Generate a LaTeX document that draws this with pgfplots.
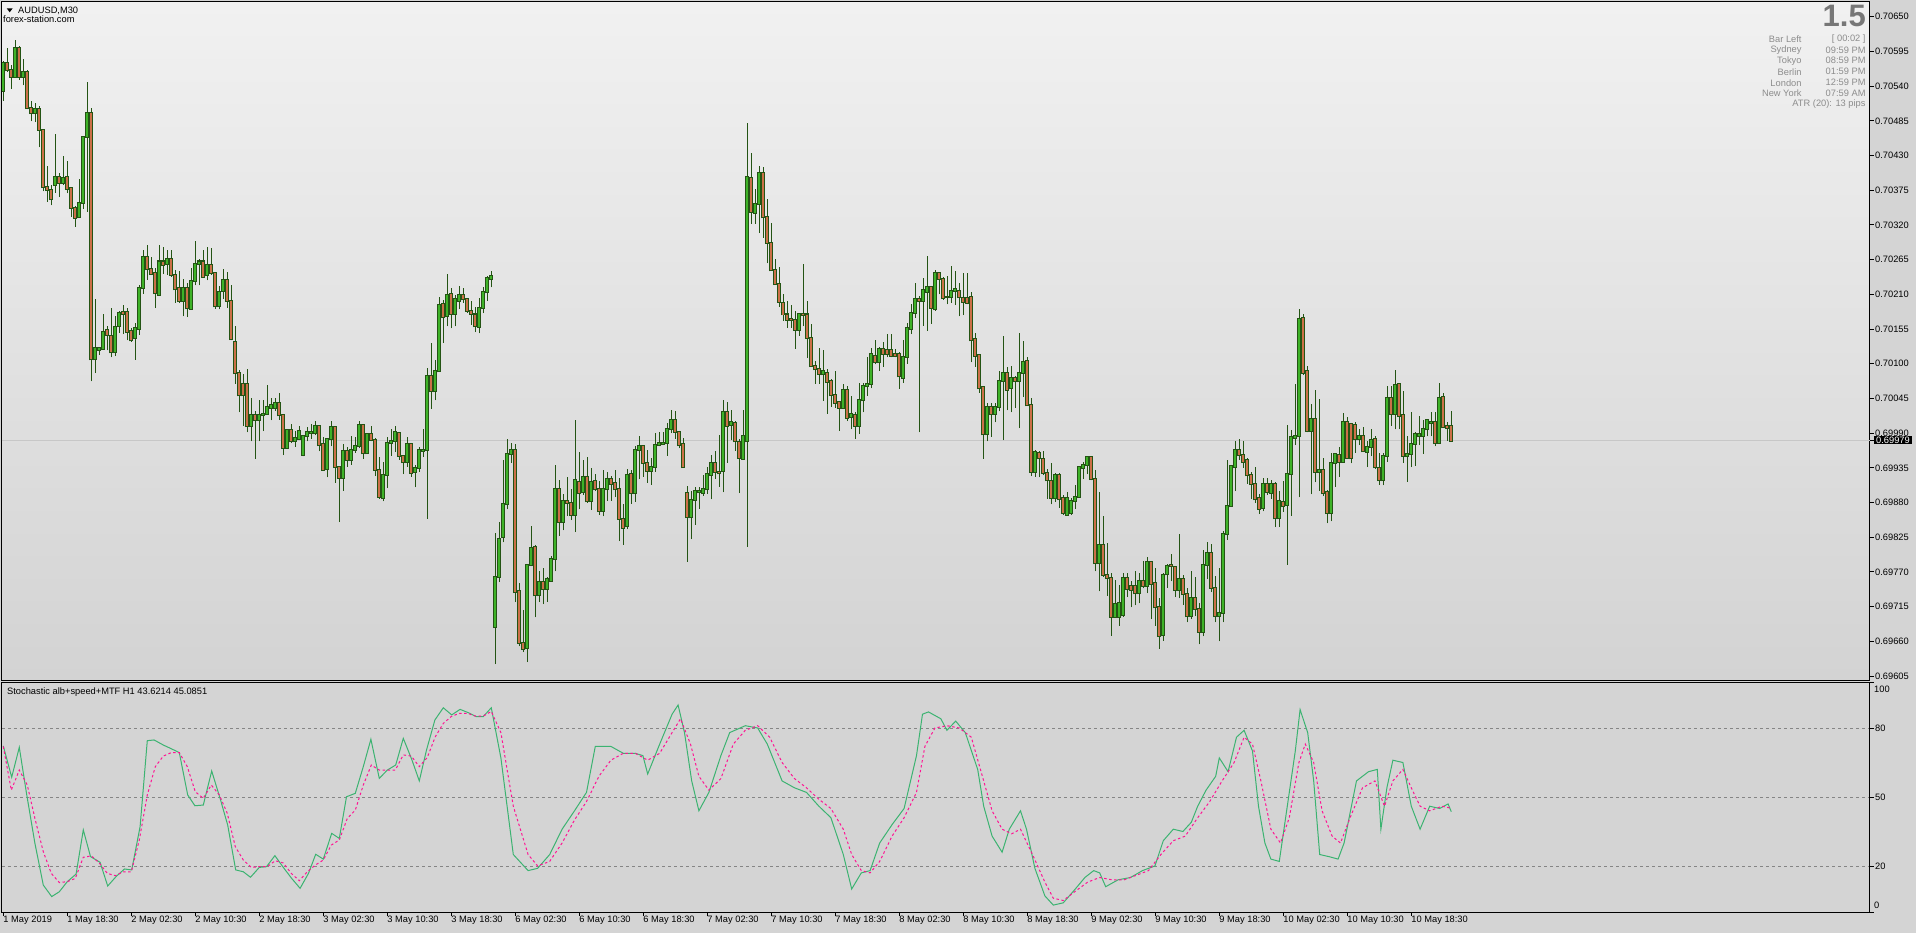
\documentclass[border=0pt]{standalone}
\usepackage{fontspec}
\setmainfont{Liberation Sans}
\usepackage{pgfplots}
\usepackage{pgfplotstable}
\pgfplotsset{compat=1.18}

\definecolor{panelgray}{RGB}{212,212,212}
\definecolor{chtop}{RGB}{241,241,241}
\definecolor{chbot}{RGB}{211,211,211}
\definecolor{wick}{RGB}{36,84,20}
\definecolor{bull}{RGB}{62,178,40}
\definecolor{bear}{RGB}{204,112,72}
\definecolor{stmain}{RGB}{60,179,113}
\definecolor{stsig}{RGB}{255,20,147}
\definecolor{infogray}{RGB}{140,140,140}
\newcommand\mtfont{\fontsize{9.3pt}{11pt}\selectfont}

% M30 candles: bar index, open, high, low, close
\pgfplotstableread{
i o h l c
0 0.70533 0.70579 0.70517 0.70577
1 0.70576 0.70600 0.70562 0.70565
2 0.70565 0.70574 0.70536 0.70555
3 0.70555 0.70613 0.70554 0.70600
4 0.70600 0.70603 0.70550 0.70555
5 0.70555 0.70583 0.70541 0.70563
6 0.70563 0.70565 0.70503 0.70505
7 0.70505 0.70517 0.70484 0.70497
8 0.70497 0.70513 0.70483 0.70503
9 0.70503 0.70509 0.70443 0.70471
10 0.70471 0.70472 0.70373 0.70380
11 0.70380 0.70413 0.70357 0.70375
12 0.70375 0.70384 0.70351 0.70361
13 0.70383 0.70464 0.70371 0.70396
14 0.70396 0.70402 0.70364 0.70387
15 0.70387 0.70429 0.70383 0.70394
16 0.70396 0.70422 0.70370 0.70377
17 0.70378 0.70379 0.70333 0.70347
18 0.70347 0.70350 0.70317 0.70331
19 0.70332 0.70392 0.70331 0.70355
20 0.70355 0.70460 0.70346 0.70459
21 0.70460 0.70546 0.70341 0.70497
22 0.70497 0.70505 0.70072 0.70107
23 0.70107 0.70202 0.70085 0.70125
24 0.70122 0.70127 0.70114 0.70125
25 0.70123 0.70179 0.70122 0.70151
26 0.70154 0.70160 0.70121 0.70146
27 0.70144 0.70188 0.70110 0.70118
28 0.70118 0.70175 0.70112 0.70158
29 0.70159 0.70183 0.70149 0.70180
30 0.70182 0.70193 0.70147 0.70179
31 0.70182 0.70188 0.70137 0.70151
32 0.70152 0.70157 0.70135 0.70137
33 0.70141 0.70165 0.70106 0.70157
34 0.70155 0.70225 0.70146 0.70220
35 0.70220 0.70281 0.70211 0.70269
36 0.70269 0.70288 0.70233 0.70250
37 0.70250 0.70269 0.70241 0.70242
38 0.70244 0.70252 0.70188 0.70212
39 0.70209 0.70288 0.70208 0.70262
40 0.70262 0.70285 0.70242 0.70256
41 0.70258 0.70281 0.70241 0.70266
42 0.70266 0.70280 0.70238 0.70241
43 0.70240 0.70248 0.70197 0.70218
44 0.70220 0.70247 0.70197 0.70199
45 0.70199 0.70234 0.70175 0.70220
46 0.70220 0.70228 0.70174 0.70188
47 0.70187 0.70252 0.70186 0.70231
48 0.70231 0.70295 0.70224 0.70258
49 0.70258 0.70266 0.70224 0.70262
50 0.70262 0.70281 0.70237 0.70238
51 0.70240 0.70285 0.70232 0.70256
52 0.70256 0.70283 0.70241 0.70244
53 0.70244 0.70245 0.70187 0.70191
54 0.70191 0.70223 0.70186 0.70213
55 0.70215 0.70250 0.70203 0.70232
56 0.70232 0.70246 0.70189 0.70200
57 0.70200 0.70224 0.70137 0.70139
58 0.70135 0.70160 0.70068 0.70085
59 0.70085 0.70090 0.70023 0.70050
60 0.70068 0.70083 0.70001 0.70050
61 0.70068 0.70091 0.69991 0.70001
62 0.70001 0.70046 0.69977 0.70018
63 0.70018 0.70025 0.69949 0.70010
64 0.70011 0.70043 0.69977 0.70018
65 0.70018 0.70043 0.69993 0.70020
66 0.70020 0.70067 0.70019 0.70031
67 0.70030 0.70046 0.70010 0.70034
68 0.70030 0.70046 0.70025 0.70037
69 0.70038 0.70053 0.70011 0.70018
70 0.70018 0.70020 0.69955 0.69967
71 0.69967 0.69996 0.69966 0.69995
72 0.69995 0.70004 0.69974 0.69977
73 0.69977 0.69994 0.69968 0.69982
74 0.69981 0.70001 0.69979 0.69993
75 0.69956 0.69987 0.69953 0.69985
76 0.69986 0.69999 0.69977 0.69992
77 0.69990 0.70005 0.69981 0.69992
78 0.69990 0.70009 0.69987 0.70002
79 0.70002 0.70003 0.69961 0.69971
80 0.69973 0.69984 0.69931 0.69932
81 0.69933 0.69982 0.69920 0.69981
82 0.69981 0.70009 0.69969 0.69999
83 0.69999 0.70001 0.69911 0.69937
84 0.69937 0.69938 0.69849 0.69919
85 0.69919 0.69973 0.69899 0.69962
86 0.69962 0.69968 0.69937 0.69947
87 0.69947 0.69986 0.69940 0.69964
88 0.69964 0.69984 0.69959 0.69970
89 0.69969 0.70009 0.69966 0.70003
90 0.70003 0.70003 0.69949 0.69958
91 0.69958 0.69989 0.69958 0.69988
92 0.69988 0.70002 0.69977 0.69979
93 0.69979 0.69982 0.69922 0.69932
94 0.69932 0.69952 0.69886 0.69889
95 0.69887 0.69945 0.69882 0.69924
96 0.69924 0.69984 0.69903 0.69974
97 0.69974 0.69996 0.69954 0.69978
98 0.69978 0.70002 0.69960 0.69992
99 0.69990 0.69991 0.69948 0.69954
100 0.69953 0.69954 0.69925 0.69944
101 0.69944 0.69984 0.69937 0.69972
102 0.69972 0.69974 0.69921 0.69927
103 0.69928 0.69939 0.69904 0.69935
104 0.69935 0.69968 0.69929 0.69964
105 0.69962 0.69996 0.69952 0.69964
106 0.69964 0.70093 0.69854 0.70081
107 0.70081 0.70133 0.70029 0.70056
108 0.70056 0.70106 0.70042 0.70089
109 0.70088 0.70205 0.70088 0.70193
110 0.70194 0.70201 0.70133 0.70174
111 0.70175 0.70242 0.70159 0.70209
112 0.70211 0.70220 0.70156 0.70179
113 0.70179 0.70209 0.70159 0.70203
114 0.70200 0.70223 0.70187 0.70209
115 0.70209 0.70220 0.70197 0.70202
116 0.70202 0.70204 0.70181 0.70184
117 0.70184 0.70200 0.70162 0.70179
118 0.70178 0.70190 0.70150 0.70159
119 0.70158 0.70204 0.70148 0.70188
120 0.70188 0.70222 0.70180 0.70213
121 0.70213 0.70239 0.70200 0.70236
122 0.70235 0.70247 0.70221 0.70239
123 0.69683 0.69831 0.69624 0.69762
124 0.69762 0.69849 0.69754 0.69822
125 0.69825 0.69948 0.69817 0.69877
126 0.69877 0.69981 0.69869 0.69957
127 0.69957 0.69975 0.69943 0.69964
128 0.69964 0.69973 0.69722 0.69738
129 0.69740 0.69752 0.69652 0.69658
130 0.69657 0.69710 0.69643 0.69648
131 0.69649 0.69783 0.69627 0.69781
132 0.69781 0.69843 0.69779 0.69808
133 0.69810 0.69813 0.69698 0.69733
134 0.69733 0.69772 0.69722 0.69754
135 0.69754 0.69776 0.69719 0.69743
136 0.69743 0.69762 0.69723 0.69758
137 0.69756 0.69796 0.69755 0.69791
138 0.69791 0.69940 0.69771 0.69901
139 0.69901 0.69915 0.69827 0.69849
140 0.69849 0.69894 0.69836 0.69883
141 0.69883 0.69921 0.69859 0.69879
142 0.69879 0.69901 0.69852 0.69860
143 0.69860 0.70011 0.69833 0.69915
144 0.69913 0.69960 0.69869 0.69895
145 0.69896 0.69947 0.69892 0.69920
146 0.69920 0.69952 0.69880 0.69882
147 0.69882 0.69935 0.69868 0.69912
148 0.69914 0.69925 0.69898 0.69901
149 0.69901 0.69914 0.69860 0.69867
150 0.69867 0.69932 0.69858 0.69901
151 0.69901 0.69929 0.69883 0.69917
152 0.69917 0.69922 0.69883 0.69910
153 0.69911 0.69932 0.69888 0.69901
154 0.69902 0.69919 0.69819 0.69854
155 0.69854 0.69878 0.69813 0.69840
156 0.69842 0.69933 0.69838 0.69923
157 0.69925 0.69932 0.69878 0.69895
158 0.69895 0.69970 0.69881 0.69963
159 0.69963 0.69986 0.69917 0.69969
160 0.69969 0.69970 0.69921 0.69943
161 0.69943 0.69964 0.69911 0.69930
162 0.69930 0.69950 0.69908 0.69937
163 0.69937 0.69990 0.69929 0.69971
164 0.69971 0.69992 0.69969 0.69974
165 0.69973 0.69992 0.69971 0.69975
166 0.69974 0.70006 0.69954 0.69996
167 0.69996 0.70027 0.69990 0.70011
168 0.70011 0.70025 0.69981 0.69992
169 0.69992 0.69993 0.69966 0.69971
170 0.69973 0.69983 0.69936 0.69936
171 0.69895 0.69906 0.69786 0.69857
172 0.69857 0.69898 0.69822 0.69884
173 0.69884 0.69904 0.69845 0.69898
174 0.69896 0.69905 0.69870 0.69898
175 0.69895 0.69924 0.69891 0.69901
176 0.69901 0.69937 0.69894 0.69925
177 0.69924 0.69955 0.69885 0.69942
178 0.69942 0.69962 0.69918 0.69928
179 0.69928 0.69987 0.69905 0.69926
180 0.69930 0.70042 0.69896 0.70024
181 0.70024 0.70040 0.69943 0.70002
182 0.70003 0.70027 0.69979 0.70007
183 0.70006 0.70010 0.69962 0.69977
184 0.69976 0.69980 0.69895 0.69951
185 0.69949 0.70027 0.69948 0.69986
186 0.69977 0.70482 0.69810 0.70396
187 0.70394 0.70434 0.70322 0.70341
188 0.70339 0.70377 0.70322 0.70353
189 0.70353 0.70414 0.70307 0.70402
190 0.70402 0.70411 0.70300 0.70332
191 0.70332 0.70361 0.70259 0.70292
192 0.70292 0.70323 0.70247 0.70248
193 0.70248 0.70266 0.70225 0.70226
194 0.70227 0.70254 0.70190 0.70198
195 0.70197 0.70210 0.70168 0.70178
196 0.70178 0.70200 0.70157 0.70170
197 0.70171 0.70193 0.70157 0.70170
198 0.70170 0.70184 0.70124 0.70154
199 0.70154 0.70181 0.70144 0.70179
200 0.70179 0.70258 0.70159 0.70177
201 0.70178 0.70200 0.70109 0.70141
202 0.70141 0.70163 0.70095 0.70096
203 0.70096 0.70105 0.70068 0.70091
204 0.70091 0.70125 0.70068 0.70084
205 0.70083 0.70121 0.70041 0.70088
206 0.70086 0.70091 0.70021 0.70071
207 0.70072 0.70075 0.70032 0.70050
208 0.70050 0.70088 0.70030 0.70038
209 0.70039 0.70040 0.69994 0.70030
210 0.70030 0.70068 0.70028 0.70058
211 0.70059 0.70064 0.70009 0.70014
212 0.70015 0.70049 0.69996 0.70020
213 0.70018 0.70024 0.69981 0.70002
214 0.70002 0.70069 0.69989 0.70042
215 0.70042 0.70069 0.70023 0.70065
216 0.70064 0.70110 0.70049 0.70068
217 0.70068 0.70125 0.70061 0.70115
218 0.70113 0.70137 0.70099 0.70102
219 0.70102 0.70126 0.70089 0.70123
220 0.70123 0.70135 0.70095 0.70116
221 0.70121 0.70147 0.70110 0.70116
222 0.70121 0.70147 0.70110 0.70113
223 0.70115 0.70124 0.70110 0.70113
224 0.70115 0.70118 0.70060 0.70080
225 0.70078 0.70138 0.70070 0.70111
226 0.70111 0.70164 0.70100 0.70156
227 0.70155 0.70194 0.70147 0.70181
228 0.70181 0.70228 0.70173 0.70202
229 0.70202 0.70207 0.69991 0.70200
230 0.70200 0.70236 0.70160 0.70217
231 0.70214 0.70271 0.70152 0.70221
232 0.70221 0.70222 0.70163 0.70189
233 0.70186 0.70248 0.70184 0.70243
234 0.70243 0.70244 0.70210 0.70235
235 0.70235 0.70237 0.70201 0.70204
236 0.70205 0.70239 0.70194 0.70205
237 0.70205 0.70255 0.70197 0.70216
238 0.70216 0.70247 0.70193 0.70218
239 0.70216 0.70228 0.70175 0.70205
240 0.70204 0.70244 0.70177 0.70198
241 0.70204 0.70244 0.70194 0.70197
242 0.70205 0.70213 0.70102 0.70137
243 0.70139 0.70148 0.70095 0.70113
244 0.70114 0.70115 0.70054 0.70061
245 0.70063 0.70064 0.69949 0.69988
246 0.69988 0.70037 0.69977 0.70031
247 0.70031 0.70038 0.69984 0.70020
248 0.70021 0.70037 0.70007 0.70031
249 0.70031 0.70089 0.70025 0.70072
250 0.70072 0.70144 0.69979 0.70085
251 0.70085 0.70095 0.70026 0.70059
252 0.70061 0.70096 0.70023 0.70077
253 0.70077 0.70081 0.70030 0.70072
254 0.70072 0.70148 0.69998 0.70086
255 0.70086 0.70136 0.70047 0.70102
256 0.70104 0.70110 0.70034 0.70034
257 0.70034 0.70045 0.69922 0.69929
258 0.69928 0.69963 0.69921 0.69960
259 0.69958 0.69962 0.69920 0.69950
260 0.69949 0.69962 0.69923 0.69927
261 0.69927 0.69933 0.69886 0.69915
262 0.69914 0.69943 0.69877 0.69887
263 0.69887 0.69926 0.69881 0.69924
264 0.69924 0.69926 0.69872 0.69885
265 0.69887 0.69892 0.69860 0.69864
266 0.69861 0.69896 0.69859 0.69887
267 0.69863 0.69887 0.69860 0.69883
268 0.69882 0.69908 0.69870 0.69888
269 0.69889 0.69937 0.69889 0.69936
270 0.69935 0.69944 0.69917 0.69940
271 0.69939 0.69954 0.69925 0.69952
272 0.69952 0.69954 0.69915 0.69917
273 0.69917 0.69932 0.69771 0.69784
274 0.69784 0.69896 0.69739 0.69813
275 0.69813 0.69859 0.69762 0.69765
276 0.69765 0.69816 0.69732 0.69760
277 0.69760 0.69769 0.69669 0.69699
278 0.69699 0.69757 0.69698 0.69719
279 0.69699 0.69750 0.69685 0.69720
280 0.69701 0.69769 0.69699 0.69760
281 0.69760 0.69769 0.69730 0.69743
282 0.69748 0.69755 0.69714 0.69742
283 0.69748 0.69772 0.69717 0.69736
284 0.69736 0.69768 0.69720 0.69756
285 0.69756 0.69788 0.69744 0.69748
286 0.69748 0.69794 0.69736 0.69785
287 0.69785 0.69788 0.69695 0.69751
288 0.69752 0.69776 0.69685 0.69714
289 0.69714 0.69728 0.69648 0.69669
290 0.69670 0.69769 0.69661 0.69765
291 0.69766 0.69783 0.69745 0.69780
292 0.69781 0.69798 0.69755 0.69780
293 0.69778 0.69780 0.69730 0.69742
294 0.69742 0.69830 0.69728 0.69758
295 0.69758 0.69765 0.69718 0.69735
296 0.69735 0.69745 0.69690 0.69700
297 0.69700 0.69772 0.69695 0.69728
298 0.69728 0.69762 0.69700 0.69712
299 0.69712 0.69720 0.69655 0.69675
300 0.69675 0.69804 0.69668 0.69781
301 0.69781 0.69817 0.69758 0.69800
302 0.69800 0.69815 0.69738 0.69745
303 0.69745 0.69764 0.69690 0.69700
304 0.69700 0.69776 0.69660 0.69705
305 0.69705 0.69835 0.69690 0.69830
306 0.69830 0.69948 0.69821 0.69875
307 0.69874 0.69940 0.69874 0.69938
308 0.69936 0.69978 0.69898 0.69963
309 0.69963 0.69980 0.69947 0.69955
310 0.69955 0.69978 0.69935 0.69945
311 0.69948 0.69950 0.69910 0.69923
312 0.69924 0.69929 0.69885 0.69909
313 0.69909 0.69937 0.69879 0.69885
314 0.69887 0.69894 0.69862 0.69870
315 0.69871 0.69919 0.69866 0.69910
316 0.69910 0.69919 0.69892 0.69897
317 0.69895 0.69916 0.69886 0.69910
318 0.69910 0.69912 0.69841 0.69855
319 0.69855 0.69899 0.69841 0.69883
320 0.69881 0.69914 0.69865 0.69874
321 0.69876 0.70003 0.69781 0.69925
322 0.69925 0.69995 0.69859 0.69984
323 0.69983 0.70068 0.69971 0.69986
324 0.69985 0.70187 0.69888 0.70171
325 0.70172 0.70179 0.70082 0.70086
326 0.70089 0.70097 0.69991 0.69993
327 0.69994 0.70036 0.69893 0.70012
328 0.70012 0.70059 0.69912 0.69928
329 0.69928 0.70044 0.69899 0.69932
330 0.69932 0.69950 0.69890 0.69895
331 0.69897 0.69900 0.69847 0.69863
332 0.69863 0.69958 0.69850 0.69942
333 0.69942 0.69959 0.69905 0.69957
334 0.69956 0.69968 0.69921 0.69944
335 0.69945 0.70022 0.69943 0.70008
336 0.70007 0.70016 0.69950 0.69951
337 0.70004 0.70006 0.69942 0.69950
338 0.70003 0.70007 0.69959 0.69981
339 0.69981 0.69996 0.69971 0.69986
340 0.69986 0.70000 0.69960 0.69961
341 0.69960 0.69978 0.69936 0.69968
342 0.69968 0.69996 0.69953 0.69979
343 0.69980 0.69986 0.69933 0.69936
344 0.69935 0.69958 0.69908 0.69915
345 0.69915 0.69958 0.69907 0.69954
346 0.69954 0.70065 0.69945 0.70045
347 0.70045 0.70064 0.70002 0.70020
348 0.70020 0.70090 0.69996 0.70067
349 0.70068 0.70069 0.69996 0.70017
350 0.70019 0.70057 0.69943 0.69954
351 0.69954 0.69985 0.69913 0.69957
352 0.69957 0.70024 0.69936 0.69973
353 0.69973 0.69992 0.69938 0.69989
354 0.69985 0.70017 0.69971 0.69989
355 0.69986 0.70011 0.69957 0.69996
356 0.69996 0.70011 0.69985 0.70010
357 0.70006 0.70023 0.69985 0.70008
358 0.70007 0.70023 0.69969 0.69974
359 0.69975 0.70069 0.69973 0.70045
360 0.70047 0.70053 0.69998 0.69999
361 0.70002 0.70007 0.69978 0.69998
362 0.70002 0.70025 0.69977 0.69978
}\candles

% stochastic main line (H1 values shown on M30 bars)
\pgfplotstableread{
i v
0 72.2
2.1 58.6
4 71.6
5.8 51.6
7.9 29.9
10 11.7
12.1 6.7
14 8.8
16 13.2
18.2 16.5
20 35.7
21.8 24.1
24.2 21.6
26.1 11.3
28.3 15.6
30.3 18.7
32.1 18.3
34.2 37.1
36 74.5
37.7 74.8
40 72.6
42.1 70.9
44 69.3
46.1 50.9
47.9 46.2
50 46.5
52.1 61.3
54.2 49.4
56.1 37.8
58.1 18.3
60 17.5
61.8 15.1
64 19.4
65.8 19.7
67.9 24.5
70 19.4
72.1 14.6
74.2 10.3
76.3 16.8
78.1 25.1
80 23
82.1 34.2
84 32
85.8 50.1
88 51.6
90 63.2
91.9 75.1
94 58.1
96 61.7
98.1 63.9
100 75.5
102.1 66.4
104 57
105.8 70.4
107.9 83.5
110 88.8
112.1 85.7
114.2 88.1
116.2 86.7
118.2 85
120 85
122 88.8
124.4 67
127.5 25
131.2 18
133.6 19
136.6 25
139.7 36
142.8 44
145.8 52
148 72
151.9 72
155 69
158 69
159.9 68
161.1 60
164.1 73
167.2 86
168.7 90
170.3 78
172.1 57
173.9 44
176.4 52
179.4 68
181.6 78
185.5 81
188.6 80
191 73
194.7 57
197.8 54
200.8 52
203.9 46
206.9 41
210 25
212.1 10
214.5 17
216.7 18
219.1 30
222.2 38
225.2 45
228.3 68
229.8 86
231.3 87
234.4 84
235.9 79
238.1 83
240.5 78
243.6 62
245.1 46
247.2 33
249.7 26
251.5 36
254.3 44
255.8 36
257.9 19
260.4 7
262.5 3
265 4
268 10
270.4 15
272.6 18
274.1 17
275.6 11
278.7 14
281.8 15
284.8 18
287.9 20
290 31
292.5 36
294.9 35
297 39
298.6 46
300.7 53
303.1 59
304 67
306.2 61
308.3 76
310.2 79
312.3 70
313.8 46
315.4 30
316.9 23
319 22
321.5 52
323 70
324.2 88
326.1 78
327.6 57
329.1 25
331.6 24
333.7 23
335.2 30
338.3 57
341.3 61
343.5 62
344.4 36
345.9 54
347.4 66
349.9 65
352 46
354.2 36
356.6 46
359.1 45
361.2 47
362 43.6
}\stochmain

% stochastic signal line
\pgfplotstableread{
i v
0 72
2 53
4 61.7
6 55.2
8 40
10 26.2
12 16.8
14 12.8
16 13.2
18 14.6
20 23.8
22 24.4
24 21.3
26 16.8
28 15.8
30 17.5
32 17.5
34 31.3
36 50.9
38 63.2
40 67.8
42 69.3
44 69.3
46 63.2
48 52.3
50 49.4
52 55.2
54 50.9
56 42.9
58 28.4
60 22.6
62 19.4
64 19.7
66 19.7
68 22.3
70 21.3
72 16.8
74 13.6
76 17.5
78 20.4
80 22.6
82 29.1
84 31.3
86 40.7
88 44.3
90 55.2
92 63.9
94 61.7
96 61.7
98 61.7
100 68.3
102 67.8
104 63.2
106 67.2
108 76.2
110 82
112 85
114 86.4
116 86.4
118 85.2
120 85.2
122 87.2
124.4 78
127.5 46
131.2 25
133.6 20
136.6 22
139.7 30
142.8 40
145.8 48
148.9 59
151.9 66
155 69
158 69
161.1 66
164.1 69
167.2 78
169.3 84
171.8 73
173.9 59
176.4 53
179.4 58
182.5 73
185.5 79
188.6 81
191.6 76
194.7 65
197.8 58
200.8 54
203.9 49
206.9 45
210 36
212.1 25
214.5 18
216.7 17
219.1 22
222.2 33
225.2 41
228.3 52
230.4 72
232.9 80
235.9 81
239 80
242 76
245.1 57
247.2 44
249.7 36
252.1 34
254.3 36
257.3 25
260.4 13
262.5 6
265 5
268 9
271.1 13
274.1 15
277.2 14
280.2 14
283.3 16
286.3 18
289.4 25
292.5 31
295.5 33
298.6 41
301.6 48
304.7 57
307.7 65
310.2 76
312.3 73
314.4 57
316.9 36
319.3 30
321.5 41
323.9 65
325.5 73
327.6 65
329.7 44
332.2 33
334.3 30
336.7 41
339.8 54
342.9 57
345.3 46
347.4 57
349.9 62
352 54
354.2 46
356.6 44
359.7 46
362 45.1
}\stochsig

\begin{document}
\begin{tikzpicture}
\fill[panelgray] (0pt,0pt) rectangle (1916pt,-933pt);

% price panel
\begin{axis}[
    at={(2pt,-2pt)}, anchor=north west, scale only axis,
    width=1868pt, height=678pt,
    xmin=-0.325, xmax=466.675, ymin=0.695987, ymax=0.706733,
    axis background/.style={top color=chtop, bottom color=chbot},
    axis line style={black, line width=1pt},
    xtick=\empty,
    ytick={0.69605,0.69660,0.69715,0.69770,0.69825,0.69880,0.69935,0.69990,0.70045,0.70100,0.70155,0.70210,0.70265,0.70320,0.70375,0.70430,0.70485,0.70540,0.70595,0.70650},
    yticklabels={0.69605,0.69660,0.69715,0.69770,0.69825,0.69880,0.69935,0.69990,0.70045,0.70100,0.70155,0.70210,0.70265,0.70320,0.70375,0.70430,0.70485,0.70540,0.70595,0.70650},
    ytick pos=right, yticklabel pos=right,
    tick align=outside, major tick length=4pt,
    tick style={black, line width=1pt},
    yticklabel style={font=\mtfont, anchor=west, inner sep=0pt, xshift=1pt},
    extra y ticks={0.69979}, extra y tick labels={0.69979},
    extra y tick style={grid=major, major grid style={draw=black!22, line width=1pt},
      yticklabel style={fill=black, text=white, inner xsep=2pt, inner ysep=1pt, xshift=-1pt}},
]
% wicks
\addplot[forget plot, draw=none, mark=none,
    error bars/.cd, y dir=plus, y explicit, error mark=none,
    error bar style={draw=wick, line width=1pt}]
  table[x=i, y=l, y error plus expr={\thisrow{h}-\thisrow{l}}] {\candles};
% body outlines
\addplot[forget plot, draw=none, mark=none,
    error bars/.cd, y dir=plus, y explicit, error mark=none,
    error bar style={draw=wick, line width=3.6pt}]
  table[x=i, y expr={min(\thisrow{o},\thisrow{c})-0.0000158},
    y error plus expr={abs(\thisrow{c}-\thisrow{o})+0.0000317}] {\candles};
% bull bodies
\addplot[forget plot, draw=none, mark=none,
    error bars/.cd, y dir=plus, y explicit, error mark=none,
    error bar style={draw=bull, line width=1.6pt}]
  table[x=i, y expr={\thisrow{c}>=\thisrow{o} ? \thisrow{o} : nan},
    y error plus expr={abs(\thisrow{c}-\thisrow{o})}] {\candles};
% bear bodies
\addplot[forget plot, draw=none, mark=none,
    error bars/.cd, y dir=plus, y explicit, error mark=none,
    error bar style={draw=bear, line width=1.6pt}]
  table[x=i, y expr={\thisrow{c}<\thisrow{o} ? \thisrow{c} : nan},
    y error plus expr={abs(\thisrow{c}-\thisrow{o})}] {\candles};
\end{axis}

% stochastic panel
\begin{axis}[
    at={(2pt,-682pt)}, anchor=north west, scale only axis,
    width=1868pt, height=230pt,
    xmin=-0.325, xmax=466.675, ymin=0, ymax=100,
    axis background/.style={fill=panelgray},
    axis line style={black, line width=1pt},
    ytick={20,50,80}, yticklabels={20,50,80},
    ymajorgrids, grid style={draw=black!48, line width=1pt, dash pattern=on 3pt off 3pt},
    extra y ticks={0,100}, extra y tick labels={},
    extra y tick style={grid=none},
    ytick pos=right, yticklabel pos=right,
    xtick={0,16,...,352},
    xticklabels={1 May 2019,1 May 18:30,2 May 02:30,2 May 10:30,2 May 18:30,3 May 02:30,3 May 10:30,3 May 18:30,6 May 02:30,6 May 10:30,6 May 18:30,7 May 02:30,7 May 10:30,7 May 18:30,8 May 02:30,8 May 10:30,8 May 18:30,9 May 02:30,9 May 10:30,9 May 18:30,10 May 02:30,10 May 10:30,10 May 18:30},
    xtick pos=bottom,
    tick align=outside, major tick length=4pt,
    tick style={black, line width=1pt},
    yticklabel style={font=\mtfont, anchor=west, inner sep=0pt, xshift=1pt},
    xticklabel style={font=\mtfont, anchor=north west, inner sep=0pt, xshift=0pt, yshift=0pt},
]
\addplot[stmain, line width=1pt] table[x=i, y=v] {\stochmain};
\addplot[stsig, line width=1pt, dash pattern=on 2.5pt off 2.5pt] table[x=i, y=v] {\stochsig};
\end{axis}

% labels and panel text
\fill[black] (6.7pt,-8.3pt) -- (12.7pt,-8.3pt) -- (9.7pt,-12.3pt) -- cycle;
\node[anchor=west, inner sep=0pt, font=\mtfont] at (18pt,-10.7pt) {AUDUSD,M30};
\node[anchor=west, inner sep=0pt, font=\mtfont] at (3pt,-19.5pt) {forex-station.com};
\node[anchor=east, inner sep=0pt, text=infogray!85!black, font=\fontsize{31pt}{31pt}\selectfont\bfseries] at (1866pt,-15.5pt) {1.5};
\begin{scope}[every node/.style={inner sep=0pt, text=infogray, font=\mtfont}]
\node[anchor=east] at (1801.7pt,-39.3pt) {Bar Left};
\node[anchor=east] at (1865.7pt,-39.3pt) {[ 00:02 ]};
\node[anchor=east] at (1801.7pt,-50.3pt) {Sydney};
\node[anchor=east] at (1865.7pt,-50.3pt) {09:59 PM};
\node[anchor=east] at (1801.7pt,-60.8pt) {Tokyo};
\node[anchor=east] at (1865.7pt,-60.8pt) {08:59 PM};
\node[anchor=east] at (1801.7pt,-71.7pt) {Berlin};
\node[anchor=east] at (1865.7pt,-71.7pt) {01:59 PM};
\node[anchor=east] at (1801.7pt,-82.7pt) {London};
\node[anchor=east] at (1865.7pt,-82.7pt) {12:59 PM};
\node[anchor=east] at (1801.7pt,-93.3pt) {New York};
\node[anchor=east] at (1865.7pt,-93.3pt) {07:59 AM};
\node[anchor=east] at (1865.7pt,-104.3pt) {ATR (20): 13 pips};
\end{scope}
\node[anchor=west, inner sep=0pt, font=\mtfont] at (7pt,-691.7pt) {Stochastic alb+speed+MTF H1 43.6214 45.0851};
\node[anchor=west, inner sep=0pt, font=\mtfont] at (1874pt,-689.5pt) {100};
\node[anchor=west, inner sep=0pt, font=\mtfont] at (1874pt,-905.5pt) {0};
\end{tikzpicture}
\end{document}
